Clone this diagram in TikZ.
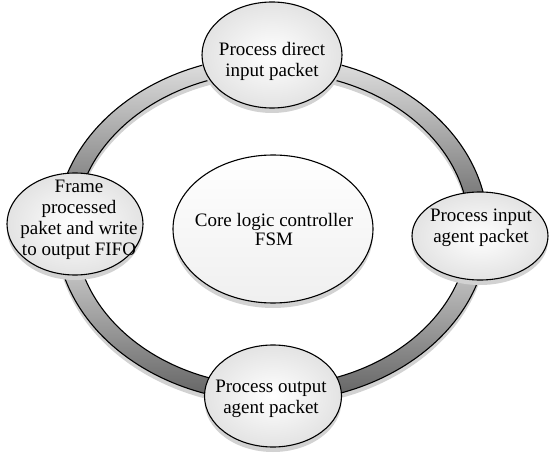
\documentclass[tikz,border=0pt]{standalone}
\usepackage{fontspec}
\setmainfont{Liberation Serif}
\usetikzlibrary{shapes.geometric,shadows}

\tikzset{
  blob/.style={ellipse, draw, line width=1.1pt, inner sep=0pt,
    inner color=white, outer color=gray!22,
    drop shadow={shadow xshift=0pt, shadow yshift=-5pt, fill=gray!35, opacity=1}},
  hub/.style={ellipse, draw, line width=1.1pt, inner sep=0pt,
    top color=white, bottom color=gray!12,
    drop shadow={shadow xshift=0pt, shadow yshift=-5pt, fill=gray!35, opacity=1}},
  lbl/.style={align=center, anchor=north, inner sep=0pt,
    font=\fontsize{19}{21}\selectfont},
  ringseg/.style={draw, line width=1.1pt, top color=gray!22, bottom color=black!62},
  ringshadow/.style={fill=gray!35, even odd rule}
}

% outer and inner radii of the ring band (in pt)
\def\ORx{216}\def\ORy{173}
\def\IRx{197}\def\IRy{157}

\begin{document}
\begin{tikzpicture}[x=1pt,y=-1pt]
\useasboundingbox (0,0) rectangle (549,457);
\coordinate (ctr) at (272,229);

% shadow of the ring band
\path[ringshadow]
  ([yshift=-5pt]ctr) ellipse[x radius=\ORx pt, y radius=\ORy pt]
  ([yshift=-5pt]ctr) ellipse[x radius=\IRx pt, y radius=\IRy pt];

% the ring, one shaded quarter between each pair of states
\foreach \a in {0,90,180,270}{
  \pgfmathsetmacro{\b}{\a+90}
  \path[ringseg]
    ([shift={(\a:\ORx pt and \ORy pt)}]ctr)
      arc[start angle=\a, end angle=\b, x radius=\ORx pt, y radius=\ORy pt]
    -- ([shift={(\b:\IRx pt and \IRy pt)}]ctr)
      arc[start angle=\b, end angle=\a, x radius=\IRx pt, y radius=\IRy pt]
    -- cycle;
}

% central controller
\node[hub, minimum width=200pt, minimum height=148pt] (C) at (273,229) {};
\node[lbl, font=\fontsize{19}{19}\selectfont] (Ct) at (274,213)
  {Core logic controller\\FSM};

% the four states
\node[blob, minimum width=140pt, minimum height=106pt] (T) at (272,55) {};
\node[lbl] (Tt) at (272,42) {Process direct\\input packet};

\node[blob, minimum width=136pt, minimum height=88pt] (R) at (480,236) {};
\node[lbl] (Rt) at (481,209) {Process input\\agent packet};

\node[blob, minimum width=137pt, minimum height=102pt] (B) at (273,396) {};
\node[lbl] (Bt) at (271,380) {Process output\\agent packet};

\node[blob, minimum width=136pt, minimum height=102pt] (L) at (75,224) {};
\node[lbl] (Lt) at (79,179.5) {Frame\\processed\\paket and write\\to output FIFO};
\end{tikzpicture}
\end{document}
